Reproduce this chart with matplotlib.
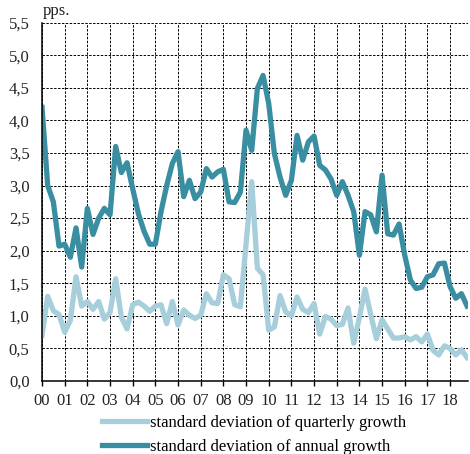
import numpy as np
import matplotlib
matplotlib.use("Agg")
import matplotlib.pyplot as plt

# quarterly data 2000Q1 - 2018Q4, pps.
years = [f"{y:02d}" for y in range(0, 19)]
sd_quarterly = [
    0.70, 1.30, 1.08, 1.02, 0.75, 0.93, 1.60, 1.15,
    1.22, 1.10, 1.22, 0.95, 1.05, 1.57, 0.98, 0.80,
    1.17, 1.21, 1.15, 1.07, 1.15, 1.17, 0.88, 1.22,
    0.86, 1.09, 1.01, 0.96, 1.01, 1.34, 1.20, 1.19,
    1.63, 1.57, 1.17, 1.14, 2.10, 3.06, 1.73, 1.63,
    0.78, 0.83, 1.31, 1.06, 1.00, 1.29, 1.10, 1.05,
    1.19, 0.72, 0.99, 0.95, 0.85, 0.87, 1.12, 0.58,
    0.98, 1.41, 1.02, 0.65, 0.94, 0.80, 0.66, 0.66,
    0.68, 0.63, 0.68, 0.60, 0.72, 0.47, 0.40, 0.54,
    0.50, 0.40, 0.48, 0.36,
]
sd_annual = [
    4.20, 3.00, 2.75, 2.07, 2.10, 1.90, 2.35, 1.75,
    2.65, 2.25, 2.50, 2.65, 2.55, 3.60, 3.20, 3.35,
    2.95, 2.57, 2.30, 2.10, 2.10, 2.60, 3.00, 3.34,
    3.52, 2.83, 3.08, 2.80, 2.90, 3.26, 3.13, 3.21,
    3.25, 2.75, 2.74, 2.90, 3.85, 3.54, 4.49, 4.69,
    4.26, 3.49, 3.13, 2.85, 3.08, 3.77, 3.39, 3.67,
    3.76, 3.31, 3.24, 3.10, 2.85, 3.06, 2.85, 2.60,
    1.93, 2.60, 2.55, 2.29, 3.16, 2.26, 2.24, 2.41,
    1.93, 1.55, 1.42, 1.44, 1.60, 1.63, 1.80, 1.81,
    1.45, 1.27, 1.34, 1.15,
]

x = np.arange(len(sd_annual)) / 4.0

plt.rcParams['font.family'] = ['Liberation Serif', 'DejaVu Serif']
fs = 12
txt = "#222222"

fig = plt.figure(figsize=(4.7, 4.54), dpi=100)
ax = fig.add_axes([0.0894, 0.1608, 0.9063, 0.7892])

light = "#a6cedb"
dark = "#3a8ea2"

ax.plot(x, sd_quarterly, color=light, lw=3.8, solid_joinstyle="round",
        label="standard deviation of quarterly growth", zorder=3)
ax.plot(x, sd_annual, color=dark, lw=3.8, solid_joinstyle="round",
        label="standard deviation of annual growth", zorder=4)

ax.set_xlim(0, 18.79)
ax.set_ylim(0, 5.5)
ax.set_xticks(range(len(years)))
ax.set_xticklabels(years, fontsize=fs, color=txt)
yt = np.arange(0, 5.51, 0.5)
ax.set_yticks(yt)
ax.set_yticklabels([f"{v:.1f}".replace(".", ",") for v in yt],
                   fontsize=fs, color=txt)
ax.tick_params(axis="x", direction="out", length=3.8, width=1, pad=5)
ax.tick_params(axis="y", length=0, pad=9)

ax.grid(True, color="black", linestyle=(0, (2.5, 1.5)), linewidth=0.7, zorder=1)
ax.set_axisbelow(True)
for s in ["top", "right"]:
    ax.spines[s].set_visible(False)
for s in ["left", "bottom"]:
    ax.spines[s].set_linewidth(1.1)
    ax.spines[s].set_zorder(5)

fig.text(0.091, 0.967, "pps.", fontsize=fs, color=txt, va="baseline")

ax.legend(loc="upper left", bbox_to_anchor=(0.217, 0.087),
          bbox_transform=fig.transFigure, frameon=False, fontsize=fs,
          handlelength=2.7, handletextpad=0.18, labelspacing=0.52,
          borderpad=0, borderaxespad=0)

fig.savefig("out.png", dpi=100)
